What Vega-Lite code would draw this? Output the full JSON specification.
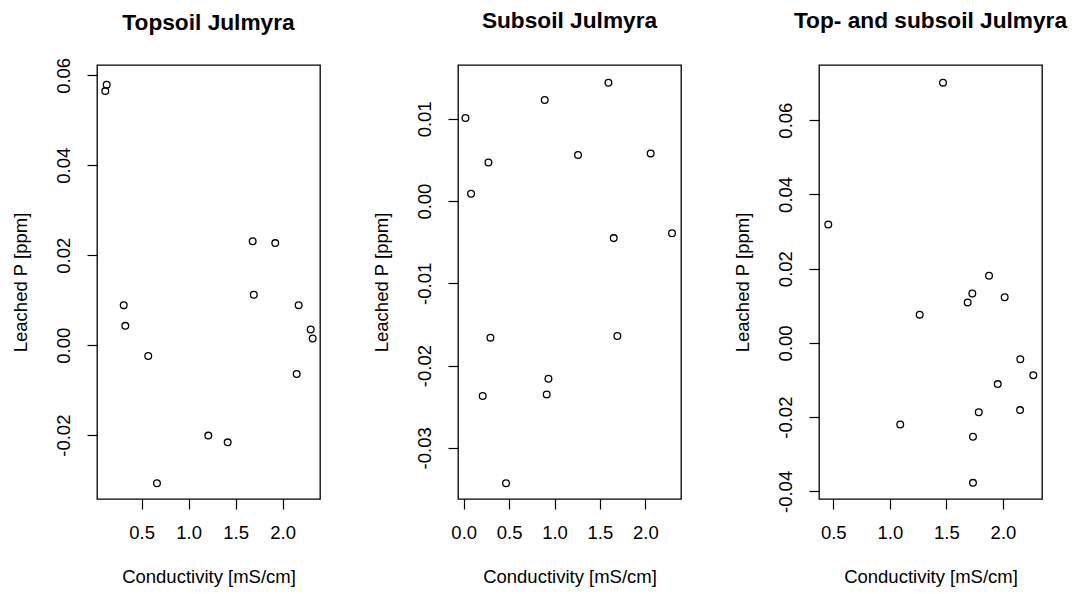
{
  "$schema": "https://vega.github.io/schema/vega-lite/v6.json",
  "background": "white",
  "padding": {"left": 10, "top": 9, "right": 5, "bottom": 5},
  "datasets": {
    "topsoil": [
      {"conductivity": 0.128, "leachedP": 0.0579},
      {"conductivity": 0.113, "leachedP": 0.0565},
      {"conductivity": 1.681, "leachedP": 0.0231},
      {"conductivity": 1.921, "leachedP": 0.0227},
      {"conductivity": 1.693, "leachedP": 0.0112},
      {"conductivity": 0.309, "leachedP": 0.0089},
      {"conductivity": 0.326, "leachedP": 0.0043},
      {"conductivity": 0.570, "leachedP": -0.0024},
      {"conductivity": 1.209, "leachedP": -0.0201},
      {"conductivity": 1.415, "leachedP": -0.0216},
      {"conductivity": 0.663, "leachedP": -0.0307},
      {"conductivity": 2.170, "leachedP": 0.0089},
      {"conductivity": 2.298, "leachedP": 0.0035},
      {"conductivity": 2.319, "leachedP": 0.0015},
      {"conductivity": 2.149, "leachedP": -0.0064}
    ],
    "subsoil": [
      {"conductivity": 0.019, "leachedP": 0.0101},
      {"conductivity": 0.892, "leachedP": 0.0123},
      {"conductivity": 1.594, "leachedP": 0.0144},
      {"conductivity": 0.272, "leachedP": 0.0047},
      {"conductivity": 0.081, "leachedP": 0.0009},
      {"conductivity": 1.259, "leachedP": 0.0056},
      {"conductivity": 2.059, "leachedP": 0.0058},
      {"conductivity": 1.652, "leachedP": -0.0045},
      {"conductivity": 2.294, "leachedP": -0.0039},
      {"conductivity": 0.294, "leachedP": -0.0166},
      {"conductivity": 1.692, "leachedP": -0.0164},
      {"conductivity": 0.209, "leachedP": -0.0237},
      {"conductivity": 0.933, "leachedP": -0.0216},
      {"conductivity": 0.914, "leachedP": -0.0235},
      {"conductivity": 0.466, "leachedP": -0.0343}
    ],
    "combined": [
      {"conductivity": 1.470, "leachedP": 0.0701},
      {"conductivity": 0.456, "leachedP": 0.0319},
      {"conductivity": 1.877, "leachedP": 0.0181},
      {"conductivity": 1.729, "leachedP": 0.0133},
      {"conductivity": 1.688, "leachedP": 0.0109},
      {"conductivity": 2.015, "leachedP": 0.0123},
      {"conductivity": 1.264, "leachedP": 0.0076},
      {"conductivity": 2.153, "leachedP": -0.0044},
      {"conductivity": 2.268, "leachedP": -0.0087},
      {"conductivity": 1.954, "leachedP": -0.0111},
      {"conductivity": 1.786, "leachedP": -0.0187},
      {"conductivity": 2.151, "leachedP": -0.0181},
      {"conductivity": 1.092, "leachedP": -0.0220},
      {"conductivity": 1.735, "leachedP": -0.0253},
      {"conductivity": 1.735, "leachedP": -0.0377}
    ]
  },
  "bounds": "flush",
  "spacing": 138,
  "hconcat": [
    {
      "title": {"text": "Topsoil Julmyra", "dy": 9},
      "width": 223,
      "height": 434,
      "data": {"name": "topsoil"},
      "mark": {"type": "point", "shape": "circle", "filled": false, "color": "black", "size": 45, "strokeWidth": 1.3, "opacity": 1},
      "encoding": {
        "x": {"field": "conductivity", "type": "quantitative", "title": "Conductivity [mS/cm]",
              "scale": {"domain": [0.025, 2.397], "nice": false, "zero": false},
              "axis": {"values": [0.5, 1.0, 1.5, 2.0], "format": ".1f"}},
        "y": {"field": "leachedP", "type": "quantitative", "title": "Leached P [ppm]",
              "scale": {"domain": [-0.0342, 0.0623], "nice": false, "zero": false},
              "axis": {"values": [-0.02, 0, 0.02, 0.04, 0.06], "labelExpr": "datum.value < 0 ? '-' + format(-datum.value, '.2f') : format(datum.value, '.2f')"}}
      }
    },
    {
      "title": "Subsoil Julmyra",
      "width": 223,
      "height": 434,
      "data": {"name": "subsoil"},
      "mark": {"type": "point", "shape": "circle", "filled": false, "color": "black", "size": 45, "strokeWidth": 1.3, "opacity": 1},
      "encoding": {
        "x": {"field": "conductivity", "type": "quantitative", "title": "Conductivity [mS/cm]",
              "scale": {"domain": [-0.063, 2.393], "nice": false, "zero": false},
              "axis": {"values": [0, 0.5, 1.0, 1.5, 2.0], "format": ".1f"}},
        "y": {"field": "leachedP", "type": "quantitative", "title": "Leached P [ppm]",
              "scale": {"domain": [-0.03622, 0.01655], "nice": false, "zero": false},
              "axis": {"values": [-0.03, -0.02, -0.01, 0, 0.01], "labelExpr": "datum.value < 0 ? '-' + format(-datum.value, '.2f') : format(datum.value, '.2f')"}}
      }
    },
    {
      "title": "Top- and subsoil Julmyra",
      "width": 223,
      "height": 434,
      "data": {"name": "combined"},
      "mark": {"type": "point", "shape": "circle", "filled": false, "color": "black", "size": 45, "strokeWidth": 1.3, "opacity": 1},
      "encoding": {
        "x": {"field": "conductivity", "type": "quantitative", "title": "Conductivity [mS/cm]",
              "scale": {"domain": [0.374, 2.345], "nice": false, "zero": false},
              "axis": {"values": [0.5, 1.0, 1.5, 2.0], "format": ".1f"}},
        "y": {"field": "leachedP", "type": "quantitative", "title": "Leached P [ppm]",
              "scale": {"domain": [-0.04205, 0.07485], "nice": false, "zero": false},
              "axis": {"values": [-0.04, -0.02, 0, 0.02, 0.04, 0.06], "labelExpr": "datum.value < 0 ? '-' + format(-datum.value, '.2f') : format(datum.value, '.2f')"}}
      }
    }
  ],
  "config": {
    "view": {"stroke": "black", "strokeWidth": 1.3},
    "axis": {
      "grid": false, "domain": false,
      "tickColor": "black", "tickSize": 10, "tickWidth": 1.2,
      "labelFont": "Liberation Sans", "labelFontSize": 18.5, "labelColor": "black",
      "titleFont": "Liberation Sans", "titleFontSize": 18.5, "titleFontWeight": "normal", "titleColor": "black"
    },
    "axisX": {"labelPadding": 14, "titlePadding": 26, "labelFlush": false},
    "axisY": {"labelAngle": -90, "labelAlign": "center", "labelBaseline": "alphabetic", "labelPadding": 18, "titlePadding": 24, "labelFlush": false},
    "title": {"font": "Liberation Sans", "fontSize": 22.7, "fontWeight": "bold", "color": "black", "anchor": "middle", "baseline": "alphabetic", "offset": 32, "frame": "group"}
  }
}
